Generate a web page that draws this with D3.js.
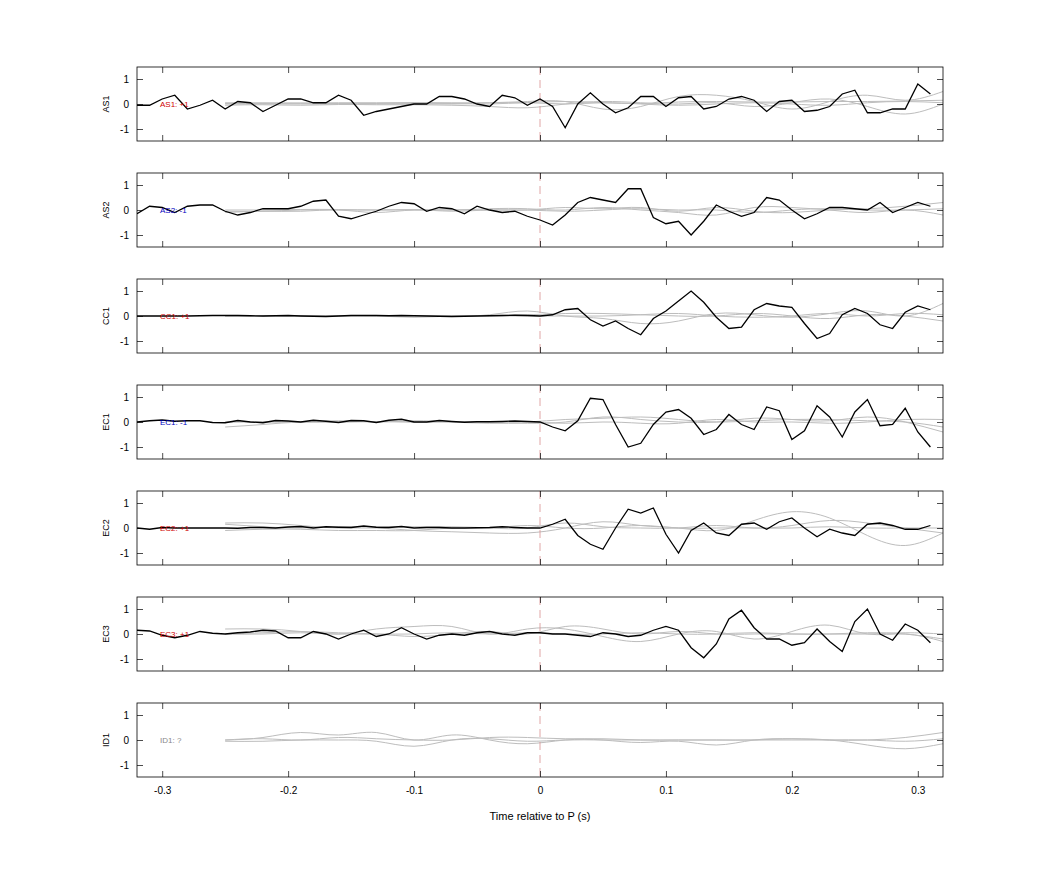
<!DOCTYPE html>
<html><head><meta charset="utf-8">
<script src="https://cdn.jsdelivr.net/npm/d3@7"></script>
<style>body{margin:0;background:#fff;font-family:"Liberation Sans",Arial,sans-serif}</style>
</head><body><svg id="c" width="1042" height="875"></svg>
<script>
const stations = ["AS1","AS2","CC1","EC1","EC2","EC3","ID1"];
const labels = ["AS1: +1","AS2: -1","CC1: +1","EC1: -1","EC2: +1","EC3: +1","ID1: ?"];
const labelColors = ["#d00000","#0000c0","#d00000","#0000c0","#d00000","#d00000","#888888"];
const xTicks = [-0.3,-0.2,-0.1,0,0.1,0.2,0.3];
const yTicks = [-1,0,1];
// black traces, sampled every 0.01 s from -0.32 to 0.31
const blackStart = -0.32, blackStep = 0.01;
const traceAS1 = [-0.05,-0.05,0.2,0.35,-0.2,-0.05,0.15,-0.2,0.1,0.05,-0.3,-0.05,0.2,0.2,0.05,0.05,0.35,0.15,-0.45,-0.3,-0.2,-0.1,0.0,0.0,0.3,0.3,0.2,0.0,-0.1,0.35,0.25,-0.05,0.2,-0.1,-0.95,0.0,0.45,0.0,-0.35,-0.15,0.3,0.3,-0.1,0.25,0.3,-0.2,-0.1,0.2,0.3,0.15,-0.3,0.1,0.15,-0.3,-0.25,-0.1,0.4,0.55,-0.35,-0.35,-0.2,-0.2,0.8,0.4];
const traceAS2 = [-0.15,0.15,0.1,-0.1,0.15,0.2,0.2,-0.05,-0.2,-0.1,0.05,0.05,0.05,0.15,0.35,0.4,-0.25,-0.35,-0.2,-0.05,0.15,0.3,0.25,-0.05,0.1,0.05,-0.15,0.15,0.0,-0.1,-0.05,-0.25,-0.4,-0.6,-0.2,0.3,0.5,0.4,0.3,0.85,0.85,-0.3,-0.55,-0.45,-1.0,-0.45,0.2,-0.05,-0.25,-0.1,0.5,0.4,0.0,-0.35,-0.15,0.1,0.1,0.05,0.0,0.3,-0.1,0.1,0.3,0.15];
const traceCC1 = [0.0,0.0,0.0,0.0,0.0,0.01,0.02,0.02,0.02,0.01,0.0,0.01,0.02,0.0,-0.01,-0.02,0.0,0.02,0.02,0.02,0.01,0.02,0.01,0.0,-0.01,-0.02,-0.01,0.0,0.01,0.02,0.03,0.02,0.0,0.05,0.25,0.3,-0.15,-0.4,-0.2,-0.5,-0.75,-0.1,0.2,0.6,1.0,0.55,-0.05,-0.5,-0.45,0.25,0.5,0.4,0.35,-0.3,-0.9,-0.7,0.05,0.3,0.1,-0.35,-0.5,0.15,0.4,0.25];
const traceEC1 = [0.0,0.05,0.08,0.03,0.05,0.05,-0.02,-0.03,0.06,0.0,-0.03,0.06,0.04,0.0,0.07,0.03,-0.02,0.06,0.05,-0.02,0.07,0.11,0.0,0.0,0.06,0.02,-0.01,0.01,0.01,0.02,0.04,0.02,0.0,-0.2,-0.35,0.05,0.95,0.9,-0.1,-1.0,-0.85,-0.1,0.4,0.5,0.15,-0.5,-0.3,0.3,-0.1,-0.3,0.6,0.45,-0.7,-0.35,0.65,0.2,-0.6,0.4,0.9,-0.15,-0.1,0.55,-0.4,-1.0];
const traceEC2 = [0.0,-0.05,0.02,0.0,0.0,0.0,0.0,0.0,-0.01,0.02,0.02,0.0,0.04,0.06,0.0,0.05,0.03,0.02,0.08,0.03,0.02,0.06,0.0,0.02,0.02,0.0,0.0,0.01,0.02,0.05,0.02,0.0,0.0,0.15,0.35,-0.3,-0.65,-0.85,0.0,0.75,0.6,0.8,-0.25,-1.0,-0.1,0.2,-0.2,-0.3,0.15,0.2,-0.05,0.25,0.4,0.0,-0.35,-0.05,-0.2,-0.3,0.15,0.2,0.1,-0.05,-0.05,0.1];
const traceEC3 = [0.15,0.12,-0.05,-0.15,-0.05,0.1,0.03,0.0,0.05,0.08,0.15,0.12,-0.15,-0.15,0.1,0.0,-0.2,0.0,0.15,-0.1,0.0,0.25,0.0,-0.2,-0.05,0.0,-0.05,0.05,0.1,0.0,-0.05,0.05,0.05,0.0,0.0,-0.05,-0.1,0.05,0.0,-0.1,-0.05,0.15,0.3,0.15,-0.55,-0.95,-0.4,0.6,0.95,0.25,-0.2,-0.2,-0.45,-0.35,0.2,-0.3,-0.7,0.5,1.0,0.0,-0.25,0.4,0.15,-0.35];
const blackTraces = [traceAS1,traceAS2,traceCC1,traceEC1,traceEC2,traceEC3,null];
// grey reference traces, sampled every 0.03 s from -0.25 to 0.32
const greyStart = -0.25, greyStep = 0.03;
const greyAS1 = [
 [0.05,0.05,0.04,0.05,0.05,0.06,0.05,0.05,0.06,0.1,0.05,0.02,0.08,0.1,0.08,0.08,0.1,0.1,0.12,0.15],
 [0.0,0.0,0.0,0.0,0.0,0.02,0.0,0.05,0.1,0.1,-0.2,-0.1,0.3,0.35,0.1,-0.2,0.1,0.35,0.15,0.5],
 [-0.05,-0.03,-0.05,-0.02,-0.03,-0.03,-0.05,-0.1,-0.15,0.0,0.1,0.05,0.0,0.05,-0.1,0.05,0.2,-0.1,-0.4,0.0],
 [0.02,0.02,0.03,0.02,0.02,0.0,0.02,0.0,0.05,0.0,0.05,0.0,-0.05,0.0,0.05,0.0,-0.05,0.05,0.1,0.05]];
const greyAS2 = [
 [-0.1,-0.05,-0.05,0.0,-0.1,0.0,-0.05,0.0,0.0,0.1,0.05,0.1,-0.05,0.1,-0.05,-0.1,0.0,0.05,0.15,0.3],
 [0.0,0.0,0.02,0.02,0.0,0.02,0.0,0.05,0.05,0.0,0.1,0.0,-0.1,-0.2,0.1,0.1,0.0,-0.1,0.0,-0.2],
 [-0.05,-0.05,0.0,0.0,0.0,0.0,0.0,0.0,0.0,-0.05,0.0,0.05,0.0,0.0,-0.1,0.0,0.05,0.0,0.0,0.05]];
const greyCC1 = [
 [0.0,0.0,0.0,0.02,0.0,0.02,0.0,0.05,0.2,0.0,-0.1,-0.3,-0.2,0.1,0.05,-0.05,0.1,0.2,0.0,0.5],
 [0.0,0.02,0.0,0.0,0.02,0.0,0.0,0.02,0.05,0.1,0.1,0.05,0.0,0.0,0.1,0.0,-0.1,0.05,0.0,-0.2],
 [0.0,0.0,0.02,0.0,0.0,-0.05,0.0,0.0,0.0,0.0,0.0,0.05,0.1,0.0,-0.05,0.0,0.1,0.0,0.1,0.05]];
const greyEC1 = [
 [-0.2,-0.1,0.0,0.0,0.02,0.0,0.0,0.0,0.0,0.1,0.15,0.2,0.1,0.0,0.05,0.1,0.1,0.05,0.0,-0.2],
 [0.0,0.0,0.0,0.05,0.0,0.05,0.0,-0.05,-0.05,0.0,0.2,0.1,0.0,0.0,0.15,0.1,0.05,0.2,0.0,-0.4],
 [0.0,0.02,0.0,0.0,0.02,0.0,0.02,0.0,0.0,-0.05,0.0,-0.05,-0.05,0.1,0.0,0.0,-0.05,0.0,0.1,0.1]];
const greyEC2 = [
 [0.2,0.2,0.1,0.0,0.0,-0.1,-0.15,-0.2,-0.2,0.0,0.25,0.1,0.0,-0.1,0.3,0.65,0.4,-0.3,-0.7,-0.2],
 [0.15,0.05,0.0,0.05,0.05,0.05,0.05,0.0,0.0,0.2,0.05,0.0,0.0,0.1,0.0,0.1,0.3,0.2,0.0,-0.2],
 [-0.1,-0.05,-0.05,-0.1,-0.1,-0.1,0.0,0.0,0.1,0.0,0.0,0.1,0.0,0.0,0.0,0.0,0.05,0.0,0.0,0.0]];
const greyEC3 = [
 [0.2,0.2,0.1,0.0,0.2,0.3,0.3,0.0,0.2,0.2,-0.1,-0.3,0.0,0.1,-0.2,0.1,0.35,0.0,0.0,-0.3],
 [0.0,0.05,0.1,0.05,0.0,-0.1,0.0,0.1,0.0,0.3,0.2,0.0,0.1,0.0,0.0,0.0,0.0,0.0,0.05,0.0],
 [0.0,0.0,0.05,0.0,0.0,0.0,0.05,0.0,0.05,0.0,0.0,0.05,0.0,0.0,0.05,0.0,0.0,0.05,0.0,-0.2]];
const greyID1 = [
 [0.0,0.1,0.3,0.2,0.3,0.0,0.2,0.0,-0.15,0.0,0.0,-0.1,-0.05,-0.2,0.0,0.05,0.0,-0.2,-0.35,-0.15],
 [0.0,0.05,0.0,0.1,0.05,0.0,0.0,0.1,0.1,0.05,0.05,0.0,0.0,0.0,0.0,0.05,0.0,0.0,0.1,0.3],
 [-0.05,-0.05,0.0,0.0,-0.05,-0.25,0.0,0.05,-0.05,0.0,0.0,0.0,0.0,0.0,0.0,0.0,0.0,0.0,-0.05,0.05]];
const greyTraces = [greyAS1,greyAS2,greyCC1,greyEC1,greyEC2,greyEC3,greyID1];

const svg = d3.select("#c");
const left = 137, right = 943, top0 = 67, ph = 74, gap = 106;
const x = d3.scaleLinear().domain([-0.32,0.32]).range([left,right]);
const font = "Liberation Sans, Arial, sans-serif";
const fmt = d => String(d);

stations.forEach((st,i)=>{
  const t = top0 + i*gap;
  const y = d3.scaleLinear().domain([-1.48,1.48]).range([t+ph,t]);
  const g = svg.append("g");
  const clipId = "clip"+i;
  svg.append("clipPath").attr("id",clipId).append("rect").attr("x",left).attr("y",t).attr("width",right-left).attr("height",ph);
  const plot = g.append("g").attr("clip-path",`url(#${clipId})`);
  const gl = d3.line().x((d,j)=>x(greyStart+j*greyStep)).y(d=>y(d)).curve(d3.curveNatural);
  greyTraces[i].forEach(arr=>{
    plot.append("path").attr("d",gl(arr)).attr("fill","none").attr("stroke","#bdbdbd").attr("stroke-width",1);
  });
  plot.append("line").attr("x1",x(0)).attr("x2",x(0)).attr("y1",t).attr("y2",t+ph)
    .attr("stroke","#d89090").attr("stroke-dasharray","8,5").attr("stroke-width",0.8);
  if (blackTraces[i]) {
    const bl = d3.line().x((d,j)=>x(blackStart+j*blackStep)).y(d=>y(d));
    plot.append("path").attr("d",bl(blackTraces[i])).attr("fill","none").attr("stroke","#000").attr("stroke-width",1.3);
  }
  const last = i===stations.length-1;
  g.append("g").attr("transform",`translate(0,${t+ph})`)
    .call(d3.axisBottom(x).tickValues(xTicks).tickSizeInner(-6).tickSizeOuter(0).tickFormat(last?fmt:""))
    .call(a=>{a.select(".domain").remove();a.selectAll("text").attr("dy","1.4em").style("font-family",font).style("font-size","10px");});
  g.append("g").attr("transform",`translate(0,${t})`)
    .call(d3.axisTop(x).tickValues(xTicks).tickSizeInner(-6).tickSizeOuter(0).tickFormat(""))
    .call(a=>a.select(".domain").remove());
  g.append("g").attr("transform",`translate(${left},0)`)
    .call(d3.axisLeft(y).tickValues(yTicks).tickSizeInner(-6).tickSizeOuter(0).tickFormat(fmt))
    .call(a=>{a.select(".domain").remove();a.selectAll("text").attr("x",-8).style("font-family",font).style("font-size","10px");});
  g.append("g").attr("transform",`translate(${right},0)`)
    .call(d3.axisRight(y).tickValues(yTicks).tickSizeInner(-6).tickSizeOuter(0).tickFormat(""))
    .call(a=>a.select(".domain").remove());
  g.append("rect").attr("x",left).attr("y",t).attr("width",right-left).attr("height",ph)
    .attr("fill","none").attr("stroke","#000").attr("stroke-width",0.8);
  g.selectAll(".tick line").attr("stroke","#000").attr("stroke-width",0.7);
  g.append("text").attr("transform",`translate(106,${y(0)}) rotate(-90)`).attr("text-anchor","middle")
    .attr("dy","0.35em").style("font-family",font).style("font-size","9px").text(st);
  g.append("text").attr("x",160).attr("y",y(0)).attr("dy","0.35em").attr("fill",labelColors[i])
    .style("font-family",font).style("font-size","8px").text(labels[i]);
});
svg.append("text").attr("x",(left+right)/2).attr("y",820).attr("text-anchor","middle")
  .style("font-family",font).style("font-size","11px").text("Time relative to P (s)");
</script></body></html>
